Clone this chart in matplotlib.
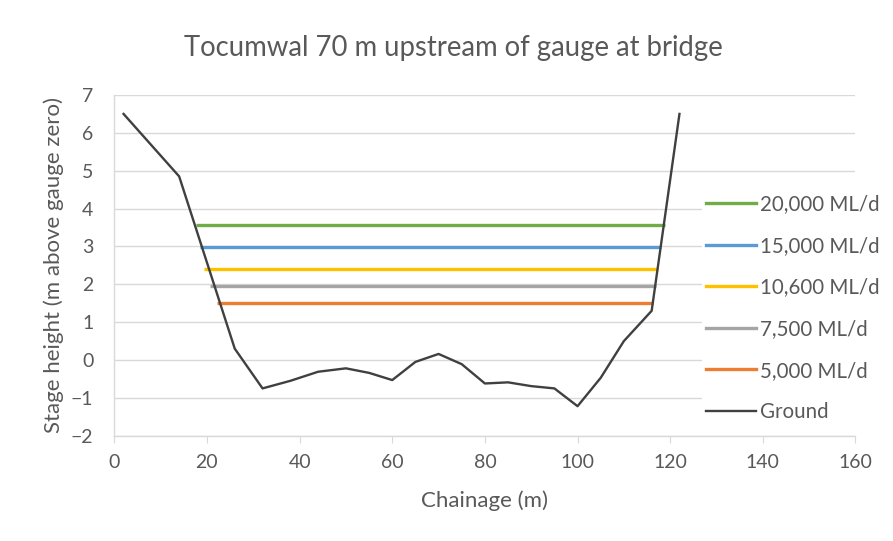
import matplotlib.pyplot as plt
from matplotlib.lines import Line2D

# ground profile (chainage m, stage height m)
ground_x = [2, 14, 26, 32, 38, 44, 50, 55, 60, 65, 70, 75, 80, 85, 90, 95, 100, 105, 110, 116, 122]
ground_y = [6.5, 4.85, 0.3, -0.75, -0.55, -0.31, -0.22, -0.34, -0.53, -0.05, 0.16, -0.11,
            -0.62, -0.59, -0.69, -0.75, -1.22, -0.47, 0.5, 1.3, 6.5]

# water levels for each flow
flows = ['20,000 ML/d', '15,000 ML/d', '10,600 ML/d', '7,500 ML/d', '5,000 ML/d']
levels = [3.56, 2.99, 2.41, 1.95, 1.51]
x_start = [17.6, 18.6, 19.4, 20.6, 22.1]
x_end = [118.8, 118.0, 117.4, 116.9, 116.3]
colors = ['#70AD47', '#5B9BD5', '#FFC000', '#A5A5A5', '#ED7D31']

plt.rcParams['font.family'] = ['Lato', 'DejaVu Sans']
txt = '#595959'

fig = plt.figure(figsize=(8.93, 5.41), dpi=100)
ax = fig.add_axes([0.128, 0.1946, 0.83, 0.6298])

for lab, lv, xs, xe, c in zip(flows, levels, x_start, x_end, colors):
    ax.plot([xs, xe], [lv, lv], color=c, lw=2.4, solid_capstyle='butt', zorder=3)
ax.plot(ground_x, ground_y, color='#404040', lw=1.7, zorder=4)

ax.set_xlim(0, 160)
ax.set_ylim(-2, 7)
ax.set_xticks(range(0, 161, 20))
ax.set_yticks(range(-2, 8))
ax.grid(axis='y', color='#D9D9D9', lw=1.0)
ax.set_axisbelow(True)
for s in ['top', 'right']:
    ax.spines[s].set_visible(False)
for s in ['left', 'bottom']:
    ax.spines[s].set_color('#D9D9D9')
    ax.spines[s].set_linewidth(1.0)
ax.tick_params(axis='x', colors='#D9D9D9', labelcolor=txt, labelsize=14, length=5, pad=8)
ax.tick_params(axis='y', colors='#D9D9D9', labelcolor=txt, labelsize=14, length=0, pad=15)

ax.set_xlabel('Chainage (m)', fontsize=16, color=txt, labelpad=14)
ax.set_ylabel('Stage height (m above gauge zero)', fontsize=16, color=txt, labelpad=5)
fig.text(0.508, 0.912, 'Tocumwal 70 m upstream of gauge at bridge', ha='center', va='center',
         fontsize=19.8, color=txt)

handles = [Line2D([], [], color=c, lw=2.4) for c in colors]
handles.append(Line2D([], [], color='#404040', lw=1.7))
leg = fig.legend(handles, flows + ['Ground'], loc='upper left', bbox_to_anchor=(0.786, 0.6485),
                 borderaxespad=0, frameon=True, facecolor='white', edgecolor='none',
                 framealpha=1, fontsize=14.8, labelcolor=txt, handlelength=2.45,
                 handletextpad=0.2, labelspacing=1.05, borderpad=0.2)

fig.savefig('out.png', dpi=100)
